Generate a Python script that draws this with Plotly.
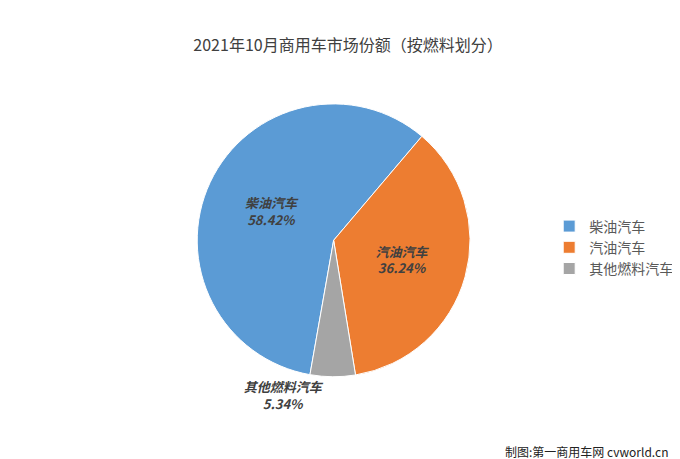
import plotly.graph_objects as go

labels = ["柴油汽车", "汽油汽车", "其他燃料汽车"]
shares = [58.42, 36.24, 5.34]
colors = ["#5B9BD5", "#ED7D31", "#A5A5A5"]

texts = [f"<b><i>{l}<br>{v:.2f}%</i></b>" for l, v in zip(labels, shares)]

fig = go.Figure(go.Pie(
    labels=labels,
    values=shares,
    text=texts,
    textinfo="text",
    textposition=["inside", "inside", "outside"],
    insidetextorientation="horizontal",
    textfont=dict(size=13, color="#404040"),
    marker=dict(colors=colors, line=dict(color="white", width=1)),
    sort=False,
    direction="clockwise",
    rotation=190,
    domain=dict(x=[0.1, 0.82], y=[0.14, 0.9]),
    hoverinfo="label+percent",
))

fig.update_layout(
    width=680, height=459,
    title=dict(text="2021年10月商用车市场份额（按燃料划分）", x=0.5, y=0.93,
               font=dict(size=16, color="#404040", family="Noto Sans CJK SC")),
    font=dict(family="Noto Sans CJK SC", color="#404040"),
    legend=dict(x=0.8, y=0.5, yanchor="middle", font=dict(size=14, color="#595959")),
    margin=dict(l=10, r=10, t=60, b=40),
    paper_bgcolor="white",
)
fig.add_annotation(text="制图:第一商用车网 cvworld.cn", x=0.99, y=-0.04, xref="paper", yref="paper",
                   xanchor="right", yanchor="top", showarrow=False,
                   font=dict(size=12, color="#222222"))

fig.write_html("out.html")
